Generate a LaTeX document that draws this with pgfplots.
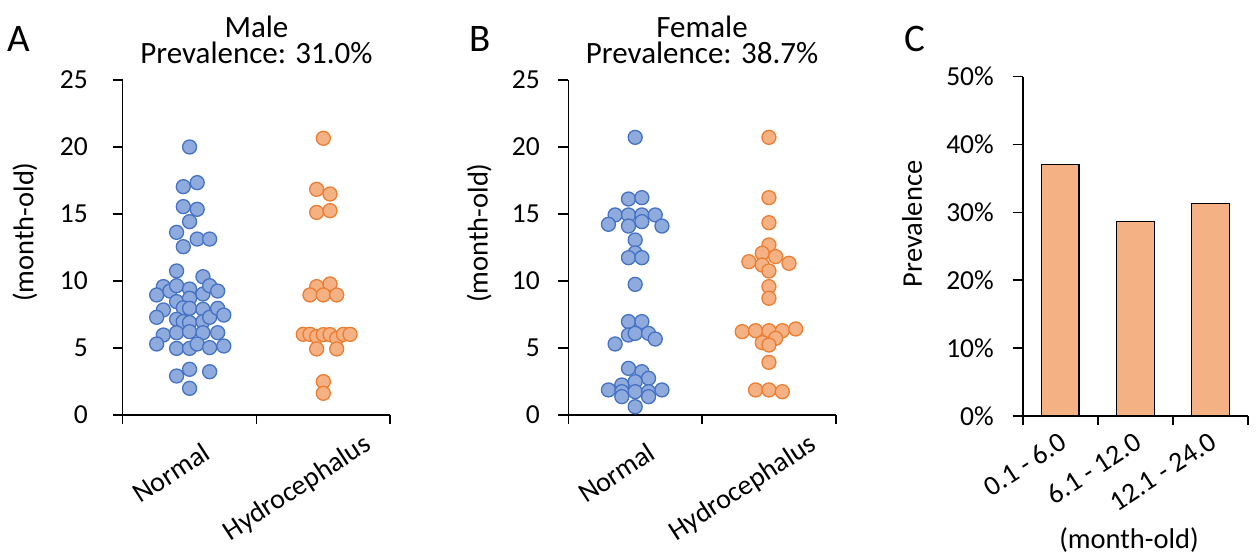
\documentclass[border=0pt]{standalone}
\usepackage{fontspec}
\setmainfont{Carlito}
\usepackage{pgfplots}
\pgfplotsset{compat=1.18}
\definecolor{bluefill}{HTML}{8FAADC}
\definecolor{blueedge}{HTML}{4472C4}
\definecolor{orfill}{HTML}{F4B183}
\definecolor{oredge}{HTML}{ED7D31}
\pgfplotsset{
  base/.style={
    scale only axis,
    axis lines=left,
    axis line style={line width=1.6pt,-},
    tick align=outside,
    major tick length=10pt,
    minor tick length=9pt,
    every tick/.style={line width=1.6pt,black},
    every major x tick/.append style={draw opacity=0},
    /pgf/number format/assume math mode=true,
    tick label style={font=\fontsize{27.5}{32}\selectfont},
    xticklabel style={font=\fontsize{28}{32}\selectfont},
    label style={font=\fontsize{28.5}{32}\selectfont},
    clip=false,
  },
  dotaxis/.style={
    base,
    width=267.5pt, height=335pt,
    xmin=0.5, xmax=2.5, ymin=0, ymax=25,
    ytick={0,5,...,25},
    xtick={1,2},
    xticklabels={\raisebox{0pt}[0.75em][0.2em]{Normal},
                 \raisebox{-7.2pt}[0.75em][0.2em]{Hydrocephalus}\kern-27.5pt\relax},
    minor xtick={0.5,1.5,2.5},
    xticklabel style={inner sep=0pt, xshift=10.8pt, yshift=-14.9pt, rotate=33, anchor=north east},
    title style={at={(0.5,1)}, anchor=south, yshift=10pt, align=center, inner sep=0pt,
      font=\fontsize{31}{26}\selectfont},
    ylabel={(month-old)},
  },
  bluedots/.style={only marks, mark=*, mark size=7pt,
    mark options={fill=bluefill, draw=blueedge, line width=1.3pt}},
  ordots/.style={only marks, mark=*, mark size=7pt,
    mark options={fill=orfill, draw=oredge, line width=1.3pt}},
}
\begin{document}
\begin{tikzpicture}[x=1pt,y=1pt]
\useasboundingbox (0,0) rectangle (1260,559);
% ---------------- Panel A ----------------
\begin{axis}[dotaxis, at={(122.7pt,144pt)}, anchor=south west,
  title={Male\\Prevalence: 31.0\%},
  yticklabel style={inner sep=0pt, xshift=-24.7pt},
  ylabel style={at={(axis description cs:-0.3655,0.546)}, anchor=center, rotate=0},
]
\addplot[bluedots] coordinates {
(1.000,20.00) (0.953,17.04) (1.057,17.34) (0.953,15.55) (1.057,15.35)
(1.000,14.43) (0.903,13.63) (1.057,13.13) (1.150,13.13) (0.953,12.56)
(0.903,10.75) (1.100,10.32) (0.804,9.58) (0.754,8.96) (0.853,9.25)
(0.903,9.65) (1.000,9.40) (1.100,9.03) (1.150,9.65) (1.210,9.25)
(0.903,8.46) (1.000,8.71) (0.953,8.00) (0.804,7.84) (0.754,7.29)
(0.903,7.14) (0.953,6.97) (1.000,7.96) (1.000,6.90) (1.100,7.89)
(1.100,6.97) (1.150,7.29) (1.210,7.96) (1.256,7.46) (0.804,5.97)
(0.754,5.30) (0.903,6.14) (1.000,6.22) (1.100,6.14) (1.210,6.14)
(0.903,4.97) (1.000,4.97) (1.057,5.30) (1.150,5.03) (1.256,5.15)
(0.903,2.91) (1.000,3.41) (1.150,3.23) (1.000,1.99)
};
\addplot[ordots] coordinates {
(2.00,20.65) (1.95,16.84) (2.05,16.49) (1.95,15.12) (2.05,15.25)
(1.95,9.58) (2.05,9.78) (1.90,8.96) (2.00,8.96) (2.10,8.96)
(1.85,6.02) (1.90,6.02) (1.95,5.85) (2.00,6.00) (2.05,6.00)
(2.10,5.72) (2.15,6.02) (2.20,6.02) (1.95,4.93) (2.10,4.93)
(2.00,2.49) (2.00,1.62)
};
\end{axis}
% ---------------- Panel B ----------------
\begin{axis}[dotaxis, at={(568.3pt,144pt)}, anchor=south west,
  title={Female\\Prevalence: 38.7\%},
  yticklabel style={inner sep=0pt, xshift=-18.3pt},
  ylabel style={at={(axis description cs:-0.3336,0.543)}, anchor=center, rotate=0},
]
\addplot[bluedots] coordinates {
(1.00,20.72) (0.95,16.12) (1.05,16.22)
(0.85,14.93) (0.95,14.93) (1.05,14.93) (1.15,14.93)
(0.80,14.23) (0.95,14.10) (1.05,14.43) (1.20,14.10)
(1.00,13.06) (1.00,12.10) (0.95,11.74) (1.05,11.74)
(1.00,9.75) (0.95,6.97) (1.05,6.97)
(0.95,5.97) (1.00,6.09) (1.10,6.09) (1.15,5.67) (0.85,5.30)
(0.95,3.48) (1.05,3.23) (1.10,2.74) (0.90,2.24) (1.00,2.49)
(0.80,1.87) (0.90,1.74) (1.00,1.74) (1.10,1.74) (1.20,1.87)
(0.90,1.37) (1.10,1.37) (1.00,0.62)
};
\addplot[ordots] coordinates {
(2.00,20.72) (2.00,16.22) (2.00,14.35) (2.00,12.69)
(1.95,12.07) (2.05,11.82) (1.85,11.44) (1.95,11.19) (2.15,11.32)
(2.00,10.75) (2.00,9.58) (2.00,8.71)
(1.80,6.22) (1.90,6.29) (2.00,6.29) (2.10,6.29) (2.20,6.42)
(2.05,5.72) (1.95,5.40) (2.00,5.22) (2.00,3.93)
(1.90,1.87) (2.00,1.87) (2.10,1.74)
};
\end{axis}
% ---------------- Panel C ----------------
\begin{axis}[base, at={(1022.7pt,143pt)}, anchor=south west,
  width=225.3pt, height=339.3pt,
  xmin=0.5, xmax=3.5, ymin=0, ymax=50,
  ytick={0,10,...,50}, yticklabels={0\%,10\%,20\%,30\%,40\%,50\%},
  yticklabel style={inner sep=0pt, xshift=-18.7pt},
  xtick={1,2,3}, xticklabels={0.1 - 6.0, 6.1 - 12.0, 12.1 - 24.0},
  minor xtick={0.5,1.5,2.5,3.5},
  xticklabel style={inner sep=0pt, xshift=-2pt, yshift=-5pt, rotate=33, anchor=north east},
  ylabel={Prevalence},
  ylabel style={at={(axis description cs:-0.491,0.566)}, anchor=center, rotate=0},
  xlabel={(month-old)},
  xlabel style={at={(axis description cs:0.472,-0.365)}, anchor=center},
]
\addplot[ybar, bar width=37.5pt, fill=orfill, draw=black, line width=1.1pt] coordinates {
(1,37.0) (2,28.6) (3,31.3)
};
\end{axis}
% panel letters
\node[font=\fontsize{39}{39}\selectfont, anchor=base west, inner sep=0pt] at (7,507) {A};
\node[font=\fontsize{39}{39}\selectfont, anchor=base west, inner sep=0pt] at (469,507) {B};
\node[font=\fontsize{39}{39}\selectfont, anchor=base west, inner sep=0pt] at (904,507) {C};
\end{tikzpicture}
\end{document}
